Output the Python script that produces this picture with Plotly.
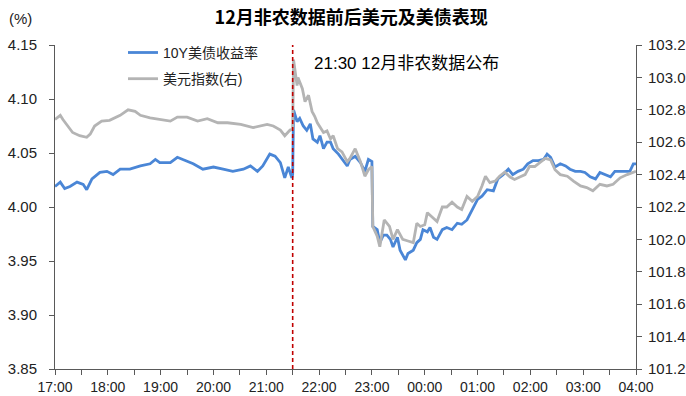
import plotly.graph_objects as go
from datetime import datetime, timedelta

# 10Y Treasury yield (%), left axis
yield_time = [
    "17:00", "17:06", "17:11", "17:17", "17:25", "17:32", "17:36", "17:42", "17:51", "17:59",
    "18:06", "18:14", "18:25", "18:37", "18:48", "18:54", "18:59", "19:11", "19:19", "19:25",
    "19:37", "19:48", "20:00", "20:11", "20:22", "20:34", "20:42", "20:50", "20:56", "21:04",
    "21:10", "21:16", "21:21", "21:25", "21:29", "21:30", "21:31", "21:35", "21:38", "21:42",
    "21:46", "21:50", "21:53", "21:58", "22:01", "22:05", "22:09", "22:13", "22:16", "22:22",
    "22:27", "22:32", "22:35", "22:41", "22:47", "22:52", "22:56", "23:00", "23:01", "23:06",
    "23:09", "23:13", "23:17", "23:21", "23:24", "23:29", "23:32", "23:38", "23:41", "23:47",
    "23:51", "23:55", "23:58", "00:03", "00:06", "00:10", "00:14", "00:20", "00:25", "00:31",
    "00:37", "00:42", "00:48", "00:54", "01:00", "01:05", "01:11", "01:18", "01:23", "01:29",
    "01:35", "01:40", "01:46", "01:52", "01:57", "02:03", "02:09", "02:15", "02:19", "02:23",
    "02:28", "02:34", "02:40", "02:45", "02:51", "02:57", "03:02", "03:08", "03:14", "03:19",
    "03:25", "03:31", "03:36", "03:42", "03:48", "03:53", "03:57", "04:00",
]
yield_vals = [
    4.019, 4.023, 4.017, 4.019, 4.023, 4.021, 4.016, 4.026, 4.032, 4.033,
    4.030, 4.035, 4.035, 4.038, 4.040, 4.044, 4.041, 4.041, 4.046, 4.044,
    4.040, 4.035, 4.037, 4.035, 4.033, 4.035, 4.038, 4.033, 4.038, 4.049,
    4.047, 4.041, 4.027, 4.037, 4.027, 4.030, 4.090, 4.079, 4.082, 4.075,
    4.071, 4.077, 4.063, 4.060, 4.066, 4.054, 4.060, 4.060, 4.054, 4.049,
    4.044, 4.038, 4.044, 4.047, 4.041, 4.033, 4.044, 4.042, 3.982, 3.979,
    3.967, 3.974, 3.974, 3.970, 3.963, 3.972, 3.960, 3.951, 3.957, 3.960,
    3.967, 3.970, 3.979, 3.977, 3.981, 3.972, 3.970, 3.979, 3.981, 3.979,
    3.985, 3.984, 3.988, 3.998, 4.007, 4.010, 4.016, 4.015, 4.026, 4.030,
    4.035, 4.030, 4.033, 4.035, 4.040, 4.043, 4.043, 4.044, 4.049, 4.046,
    4.037, 4.040, 4.038, 4.035, 4.033, 4.033, 4.032, 4.028, 4.026, 4.032,
    4.030, 4.028, 4.033, 4.033, 4.033, 4.033, 4.040, 4.040,
]

# US dollar index, right axis
dxy_time = [
    "17:00", "17:06", "17:09", "17:15", "17:20", "17:28", "17:36", "17:40", "17:45", "17:53",
    "18:02", "18:14", "18:23", "18:31", "18:37", "18:48", "18:59", "19:11", "19:19", "19:30",
    "19:42", "19:53", "20:05", "20:16", "20:31", "20:45", "21:01", "21:08", "21:16", "21:21",
    "21:27", "21:30", "21:31", "21:35", "21:36", "21:41", "21:44", "21:48", "21:52", "21:55",
    "21:58", "22:05", "22:09", "22:13", "22:16", "22:21", "22:26", "22:32", "22:35", "22:41",
    "22:47", "22:52", "22:56", "23:00", "23:01", "23:06", "23:09", "23:14", "23:20", "23:24",
    "23:29", "23:35", "23:41", "23:47", "23:51", "23:55", "00:00", "00:03", "00:08", "00:14",
    "00:20", "00:25", "00:31", "00:37", "00:42", "00:48", "00:54", "01:00", "01:05", "01:09",
    "01:14", "01:20", "01:25", "01:31", "01:37", "01:42", "01:48", "01:54", "01:59", "02:05",
    "02:11", "02:17", "02:23", "02:28", "02:34", "02:42", "02:49", "02:57", "03:04", "03:11",
    "03:19", "03:27", "03:34", "03:42", "03:50", "03:56", "04:00",
]
dxy_vals = [
    102.740, 102.766, 102.740, 102.700, 102.660, 102.640, 102.630, 102.650, 102.700, 102.730,
    102.735, 102.766, 102.800, 102.790, 102.766, 102.750, 102.740, 102.730, 102.755, 102.755,
    102.730, 102.745, 102.720, 102.720, 102.710, 102.690, 102.710, 102.700, 102.675, 102.640,
    102.675, 102.680, 103.110, 102.950, 103.000, 102.930, 102.850, 102.890, 102.790, 102.760,
    102.720, 102.660, 102.670, 102.620, 102.640, 102.560, 102.540, 102.480, 102.500, 102.560,
    102.480, 102.390, 102.430, 102.450, 102.080, 102.020, 101.955, 102.120, 102.080, 102.000,
    102.060, 102.000, 101.990, 101.980, 102.100, 102.080, 102.090, 102.165, 102.140, 102.110,
    102.200, 102.200, 102.230, 102.200, 102.185, 102.265, 102.235, 102.265, 102.330, 102.390,
    102.350, 102.360, 102.390, 102.415, 102.385, 102.370, 102.385, 102.400, 102.450, 102.450,
    102.475, 102.500, 102.490, 102.430, 102.400, 102.390, 102.360, 102.330, 102.320, 102.300,
    102.340, 102.330, 102.340, 102.380, 102.400, 102.410, 102.420,
]

yield_ticks = [3.85, 3.90, 3.95, 4.00, 4.05, 4.10, 4.15]
dxy_ticks = [101.2, 101.4, 101.6, 101.8, 102.0, 102.2, 102.4, 102.6, 102.8, 103.0, 103.2]
release_time = "21:30"
title_text = "12月非农数据前后美元及美债表现"
release_text = "21:30 12月非农数据公布"

BASE_DAY = datetime(2024, 1, 5)


def to_dt(hhmm):
    h, m = map(int, hhmm.split(":"))
    d = BASE_DAY + timedelta(hours=h, minutes=m)
    if h < 17:
        d += timedelta(days=1)
    return d


FONT = "Liberation Sans, Arial, Noto Sans CJK SC"
AXIS_COLOR = "#595959"
TICK_FONT = dict(family=FONT, size=15, color="#222222")
X_TICK_FONT = dict(family=FONT, size=14, color="#222222")

fig = go.Figure()
fig.add_trace(go.Scatter(
    x=[to_dt(t) for t in yield_time], y=yield_vals, mode="lines",
    name="10Y美债收益率", legendgroup="a",
    line=dict(color="#4a86d6", width=2.8),
))
fig.add_trace(go.Scatter(
    x=[to_dt(t) for t in dxy_time], y=dxy_vals, mode="lines",
    name="美元指数(右)", legendgroup="b", yaxis="y2",
    line=dict(color="#b4b4b4", width=2.8),
))

rel = to_dt(release_time)
fig.add_shape(type="line", x0=rel, x1=rel, y0=0, y1=1, xref="x", yref="paper",
              line=dict(color="#c00000", width=1.6, dash="4px,3px"))

fig.add_annotation(x=rel, y=0.944, xref="x", yref="paper", text=release_text,
                   showarrow=False, xanchor="left", yanchor="middle", xshift=19,
                   font=dict(family=FONT, size=17, color="#000000"))
fig.add_annotation(x=-0.083, y=1.083, xref="paper", yref="paper", text="(%)",
                   showarrow=False, xanchor="left", yanchor="middle",
                   font=dict(family=FONT, size=15, color="#222222"))

fig.update_layout(
    width=686, height=396,
    margin=dict(l=55, r=50, t=45, b=27, autoexpand=False),
    paper_bgcolor="white", plot_bgcolor="white",
    font=dict(family=FONT, size=14, color="#000000"),
    title=dict(text="<b>" + title_text + "</b>", x=0.512, xanchor="center",
               y=0.955, yanchor="middle",
               font=dict(family="Noto Sans CJK SC", size=18, color="#000000")),
    showlegend=True,
    legend=dict(x=0.117, y=1.025, xanchor="left", yanchor="top",
                bgcolor="rgba(0,0,0,0)", tracegroupgap=5,
                font=dict(family=FONT, size=14, color="#222222")),
    xaxis=dict(
        type="date", range=[to_dt("17:00"), to_dt("04:00")],
        tick0=to_dt("17:00"), dtick=3600000, tickformat="%H:%M",
        showline=True, linecolor=AXIS_COLOR, linewidth=1,
        ticks="outside", ticklen=5, tickcolor=AXIS_COLOR,
        ticklabelstandoff=0, tickfont=X_TICK_FONT, automargin=False,
        minor=dict(dtick=1800000, ticks="outside", ticklen=5, tickcolor=AXIS_COLOR),
        showgrid=False, zeroline=False,
    ),
    yaxis=dict(
        range=[3.85, 4.15], tickvals=yield_ticks, tickformat=".2f",
        showline=True, linecolor=AXIS_COLOR, linewidth=1,
        ticks="outside", ticklen=5, tickcolor=AXIS_COLOR,
        ticklabelstandoff=9, tickfont=TICK_FONT, automargin=False,
        showgrid=False, zeroline=False,
    ),
    yaxis2=dict(
        range=[101.2, 103.2], tickvals=dxy_ticks, tickformat=".1f",
        overlaying="y", side="right",
        showline=True, linecolor=AXIS_COLOR, linewidth=1,
        ticks="outside", ticklen=5, tickcolor=AXIS_COLOR,
        ticklabelstandoff=3, tickfont=TICK_FONT, automargin=False,
        showgrid=False, zeroline=False,
    ),
)

fig.write_html("out.html")
